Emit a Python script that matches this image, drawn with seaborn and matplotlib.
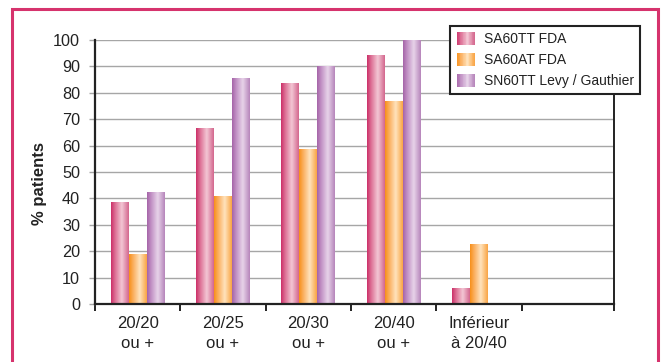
import numpy as np
import pandas as pd
import matplotlib
matplotlib.use("Agg")
import matplotlib.pyplot as plt
from matplotlib.colors import LinearSegmentedColormap, to_hex
from matplotlib.patches import Rectangle
from matplotlib.legend_handler import HandlerBase
from matplotlib.ticker import FixedLocator
import seaborn as sns

# ---- data ----
categories = ["20/20\nou +", "20/25\nou +", "20/30\nou +", "20/40\nou +", "Inférieur\nà 20/40"]
series = ["SA60TT FDA", "SA60AT FDA", "SN60TT Levy / Gauthier"]
sa60tt_fda = [38.5, 66.4, 83.6, 94.2, 5.9]
sa60at_fda = [18.9, 40.8, 58.4, 76.7, 22.6]
sn60tt_levy_gauthier = [42.3, 85.5, 89.8, 100.0, None]
y_ticks = list(range(0, 101, 10))
y_label = "% patients"

# ---- cylinder-like shading per series (edge -> highlight -> edge) ----
shade_stops = [0.0, 0.25, 0.6, 1.0]
shades = {
    "SA60TT FDA": ["#cb2f68", "#de7498", "#f3c6d4", "#d3668d"],
    "SA60AT FDA": ["#f78f18", "#fbb162", "#ffe3bd", "#f9a443"],
    "SN60TT Levy / Gauthier": ["#a563a8", "#c394c6", "#e7d3e9", "#b684ba"],
}
cmaps = {s: LinearSegmentedColormap.from_list(s, list(zip(shade_stops, c)))
         for s, c in shades.items()}
palette = {s: c[0] for s, c in shades.items()}

rows = []
for name, vals in zip(series, [sa60tt_fda, sa60at_fda, sn60tt_levy_gauthier]):
    for cat, v in zip(categories, vals):
        if v is not None:
            rows.append({"category": cat, "series": name, "value": v})
df = pd.DataFrame(rows)

sns.set_style("white")
plt.rcParams["font.family"] = ["Liberation Sans", "DejaVu Sans"]

fig = plt.figure(figsize=(6.64, 3.62), dpi=100)
ax = fig.add_axes([95 / 664, 58 / 362, 519 / 664, 264 / 362])

sns.barplot(data=df, x="category", y="value", hue="series",
            order=categories, hue_order=series, palette=palette,
            width=0.63, legend=False, ax=ax, saturation=1)

# replace flat fills with horizontal gradients
color_to_series = {to_hex(c): s for s, c in palette.items()}
grad = np.linspace(0, 1, 256).reshape(1, -1)
for p in list(ax.patches):
    h = p.get_height()
    if not np.isfinite(h) or h <= 0:
        continue
    s = color_to_series.get(to_hex(p.get_facecolor()[:3]))
    if s is None:
        continue
    x0, y0, w = p.get_x(), p.get_y(), p.get_width()
    ax.imshow(grad, cmap=cmaps[s], extent=[x0, x0 + w, y0, y0 + h],
              aspect="auto", zorder=p.get_zorder(), interpolation="bilinear")
    p.set_visible(False)

# axes limits & ticks
x_right = -0.5 + 519 / 85.3
ax.set_xlim(-0.5, x_right)
ax.set_ylim(0, 100)
ax.set_yticks(y_ticks)
ax.set_xticks(range(len(categories)))
ax.set_xticklabels(categories, fontsize=12, color="#222222", linespacing=1.38)
ax.xaxis.set_minor_locator(FixedLocator([i - 0.5 for i in range(len(categories) + 1)] + [x_right]))
ax.tick_params(axis="x", which="major", length=0, pad=9)
ax.tick_params(axis="x", which="minor", bottom=True, length=5, width=1.4, color="#222222")
ax.tick_params(axis="y", left=True, length=4.3, width=1, color="#a6a6a6",
               pad=6.5, labelsize=11.7, labelcolor="#222222")

ax.set_xlabel("")
ax.set_ylabel(y_label, fontsize=12, fontweight="bold", color="#222222")
ax.yaxis.set_label_coords(-0.0925, 0.456)

ax.yaxis.grid(True, color="#a6a6a6", lw=1.0)
ax.xaxis.grid(False)
ax.set_axisbelow(True)

for side in ["left", "bottom"]:
    ax.spines[side].set_color("#222222")
    ax.spines[side].set_linewidth(1.6)
ax.spines["right"].set_color("#222222")
ax.spines["right"].set_linewidth(1.4)
ax.spines["top"].set_visible(False)


class GradientHandler(HandlerBase):
    def __init__(self, cmap, n=24):
        super().__init__()
        self.cmap = cmap
        self.n = n

    def create_artists(self, legend, orig_handle, xdescent, ydescent,
                       width, height, fontsize, trans):
        arts = []
        for i in range(self.n):
            arts.append(Rectangle((-xdescent + width * i / self.n, -ydescent),
                                  width / self.n * 1.05, height,
                                  facecolor=self.cmap((i + 0.5) / self.n),
                                  edgecolor="none", transform=trans))
        return arts


handles = [Rectangle((0, 0), 1, 1) for _ in series]
leg = ax.legend(handles, series,
                handler_map={h: GradientHandler(cmaps[s]) for h, s in zip(handles, series)},
                loc="upper right", bbox_to_anchor=(640 / 664, 1 - 26 / 362),
                bbox_transform=fig.transFigure, borderaxespad=0,
                fontsize=10, frameon=True, fancybox=False, framealpha=1,
                edgecolor="#222222", handlelength=1.3, handleheight=1.0,
                handletextpad=0.65, labelspacing=0.5, borderpad=0.45)
leg.get_frame().set_linewidth(1.5)
for t in leg.get_texts():
    t.set_color("#222222")

# page frame
fig.add_artist(Rectangle((12 / 664, -0.1), (658 - 12) / 664, 1.1 - 9.5 / 362,
                         fill=False, edgecolor="#d6336d", lw=2.2,
                         transform=fig.transFigure, clip_on=False))

fig.savefig("out.png", dpi=100)
